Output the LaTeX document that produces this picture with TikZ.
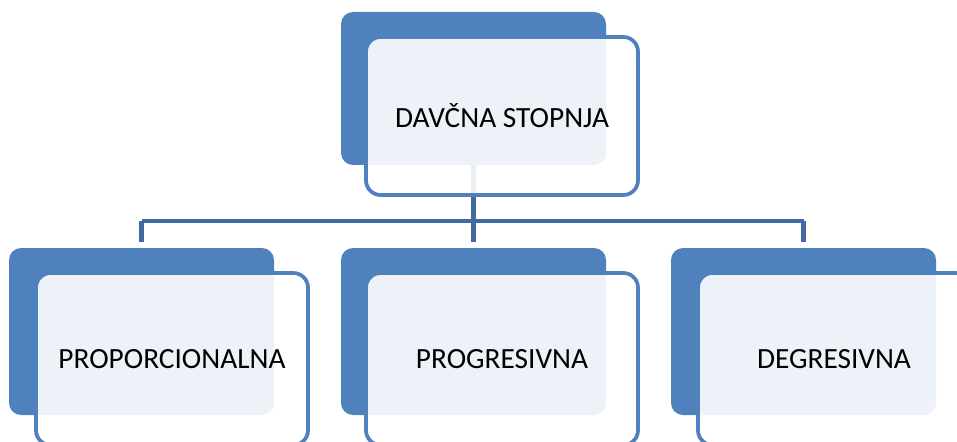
\documentclass[tikz,border=0pt]{standalone}
\usepackage{fontspec}
\setmainfont{Carlito}

\tikzset{every picture/.style={line width=0.75pt}}
\tikzset{
  backbox/.style={fill={rgb, 255:red, 79; green, 129; blue, 189 }, draw=none, rounded corners=9pt, inner sep=0pt, minimum width=198.75pt},
  frontbox/.style={draw={rgb, 255:red, 79; green, 129; blue, 189 }, line width=2.8pt, fill=white, fill opacity=0.9, text opacity=1, rounded corners=11pt, inner sep=0pt, minimum width=204pt, font=\fontsize{22}{26}\selectfont},
  conn/.style={draw={rgb, 255:red, 65; green, 106; blue, 160 }, line width=3.6pt}
}

\begin{document}
\begin{tikzpicture}[x=0.75pt,y=0.75pt,yscale=-1,xscale=1]
\useasboundingbox (0,0) rectangle (957,442);

%Shape: Rounded Rect (back)
\node [backbox, minimum height=114.75pt] (backTop) at (473.5,88.5) {};
\node [backbox, minimum height=125.25pt] (backLeft) at (141.5,331.5) {};
\node [backbox, minimum height=125.25pt] (backMid) at (473.5,331.5) {};
\node [backbox, minimum height=125.25pt] (backRight) at (803.5,331.5) {};

%Straight Lines
\coordinate (bar) at (473.5,221);
\draw [conn] (backTop.south) -- (backTop.south |- bar);
\draw [conn] (backLeft.north |- bar) -- (backRight.north |- bar);
\draw [conn, shorten >=3.75pt] (backLeft.north |- bar) -- (backLeft.north);
\draw [conn, shorten >=3.75pt] (backMid.north |- bar) -- (backMid.north);
\draw [conn, shorten >=3.75pt] (backRight.north |- bar) -- (backRight.north);

%Shape: Rounded Rect (front) with Text Node
\node [frontbox, minimum height=118.5pt] (davcna) at (502,116) {DAVČNA STOPNJA};
\node [frontbox, minimum height=129pt] (prop) at (172,359) {PROPORCIONALNA};
\node [frontbox, minimum height=129pt] (prog) at (502,359) {PROGRESIVNA};
\node [frontbox, minimum height=129pt] (degr) at (834,359) {DEGRESIVNA};

\end{tikzpicture}
\end{document}
